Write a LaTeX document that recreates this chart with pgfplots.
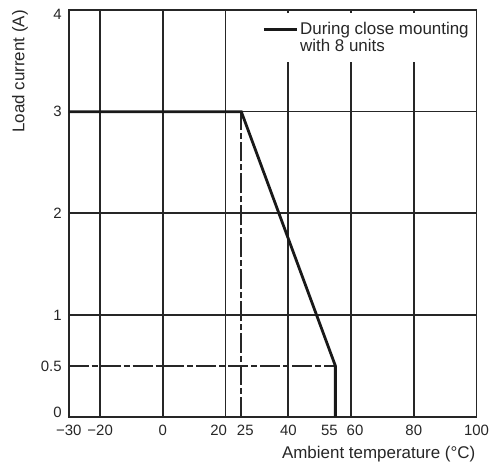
\documentclass[border=0pt]{standalone}
\usepackage{fontspec}
\setmainfont{Liberation Sans}
\usepackage{pgfplots}
\pgfplotsset{compat=1.18}
\begin{document}
\begin{tikzpicture}
% page box, same proportions as the reference
\path (-69pt,-50pt) rectangle (420pt,418pt);
\begin{axis}[
  at={(0pt,0pt)}, anchor=south west,
  scale only axis,
  width=409pt, height=408pt,
  xmin=-30, xmax=100,
  ymin=0, ymax=4,
  axis line style={line width=1.7pt, black!85},
  grid=major,
  major grid style={line width=1.7pt, black!85},
  major tick length=0pt,
  xtick={-20,0,20,40,60,80},
  xticklabels={−20,0,\kern-14pt 20,40,60\kern-8pt,80},
  extra x ticks={-30,25,55,100},
  extra x tick labels={−30,25\kern-8pt,\kern-12pt 55,100},
  extra x tick style={grid=none},
  ytick={1,2,3},
  yticklabels={1,2,3},
  extra y ticks={0,0.5,4},
  extra y tick labels={\raisebox{4.5pt}[\height][\depth]{0},0.5,\raisebox{-4.5pt}[\height][\depth]{4}},
  extra y tick style={grid=none},
  tick label style={font=\fontsize{15}{15}\selectfont, text=black!85},
  xticklabel style={inner sep=0pt, yshift=-8pt},
  yticklabel style={inner sep=0pt, xshift=-7pt},
  xlabel={Ambient temperature (°C)},
  ylabel={Load current (A)},
  label style={font=\fontsize{17}{17}\selectfont, text=black!85},
  xlabel style={at={(axis description cs:1,0)}, anchor=north east,
    inner sep=0pt, yshift=-29pt, xshift=-1pt},
  ylabel style={at={(axis description cs:-0.1,1)}, anchor=south east,
    inner sep=0pt},
  legend style={at={(axis description cs:0.996,0.993)}, anchor=north east,
    draw=none, fill=white, font=\fontsize{17}{15}\selectfont,
    text=black!85, inner xsep=4pt, inner ysep=7pt,
    cells={align=left}},
  legend cell align=left,
  legend image code/.code={\draw[#1] (0pt,8pt) -- (33pt,8pt);},
]
  % reference lines at 25 degC and 0.5 A
  \addplot[black!85, line width=1.6pt, dash pattern=on 20pt off 3pt on 6pt off 3pt, forget plot]
    coordinates {(25,0) (25,3)};
  \addplot[black!85, line width=1.6pt, dash pattern=on 20pt off 3pt on 6pt off 3pt, forget plot]
    coordinates {(-30,0.5) (55,0.5)};

  % derating curve
  \addplot[black!90, line width=2.8pt]
    coordinates {(-30,3) (25,3) (55,0.5) (55,0)};
  \addlegendentry{During close mounting\\with 8 units}
\end{axis}
\end{tikzpicture}
\end{document}
